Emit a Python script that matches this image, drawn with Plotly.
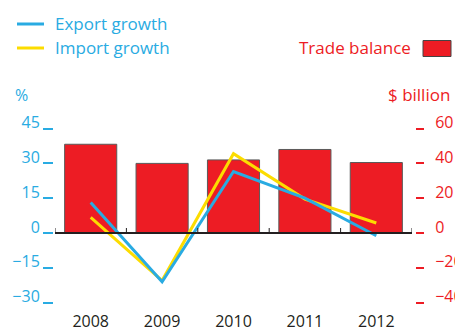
import plotly.graph_objects as go

# Data
years = ["2008", "2009", "2010", "2011", "2012"]
export_growth = [13.2, -21.0, 26.5, 15.0, -1.2]      # %
import_growth = [6.7, -20.5, 34.2, 14.6, 4.3]        # %
trade_balance = [51, 40, 42, 48, 40.5]               # $ billion

left_ticks = [-30, -15, 0, 15, 30, 45]
right_ticks = [-40, -20, 0, 20, 40, 60]

BLUE = "#29abe2"
YELLOW = "#fcdc00"
RED = "#ed1c24"
INK = "#231f20"
FONT = "Open Sans"

W, H = 455, 330

# plot area in pixels
px_left, px_right = 55, 412
px_top, px_bottom = 110, 310
zero_px = 233
scale = 2.32  # px per percentage point

pct_max = (zero_px - px_top) / scale
pct_min = -(px_bottom - zero_px) / scale
ratio = 20 / 15  # $ billion per percentage point


def fx(p):
    return p / W


def fy(p):
    return 1 - p / H


fig = go.Figure()

# trade balance bars on the $ billion axis (base axis, drawn first)
fig.add_trace(go.Bar(
    x=years, y=trade_balance, yaxis="y", width=0.73,
    marker=dict(color=RED, line=dict(color="#5a5a5a", width=1)),
    showlegend=False, hoverinfo="skip",
))
# growth lines on the % axis (overlaying, drawn above bars)
fig.add_trace(go.Scatter(
    x=years, y=import_growth, mode="lines", yaxis="y2",
    line=dict(color=YELLOW, width=3), showlegend=False,
))
fig.add_trace(go.Scatter(
    x=years, y=export_growth, mode="lines", yaxis="y2",
    line=dict(color=BLUE, width=3), showlegend=False,
))

fig.update_layout(
    width=W, height=H,
    margin=dict(l=0, r=0, t=0, b=0),
    paper_bgcolor="white", plot_bgcolor="white",
    font=dict(family=FONT, size=16),
    xaxis=dict(
        type="category", domain=[fx(px_left), fx(px_right)],
        range=[-0.5, len(years) - 0.5], automargin=False,
        showline=False, showgrid=False, zeroline=False, ticks="",
        tickfont=dict(color=INK, size=16), ticklabelstandoff=0,
    ),
    yaxis=dict(
        domain=[fy(px_bottom), fy(px_top)],
        range=[pct_min * ratio, pct_max * ratio],
        side="right", anchor="free", position=fx(415), automargin=False,
        tickvals=right_ticks, ticks="outside", ticklen=8, tickwidth=1.5,
        tickcolor=RED, tickfont=dict(color=RED, size=16),
        ticklabelshift=-6, ticklabelstandoff=8,
        showgrid=False, zeroline=False, showline=False,
    ),
    yaxis2=dict(
        overlaying="y", side="left", anchor="free", position=fx(53),
        range=[pct_min, pct_max], automargin=False,
        tickvals=left_ticks, ticks="outside", ticklen=10, tickwidth=1.5,
        tickcolor=BLUE, tickfont=dict(color=BLUE, size=16),
        ticklabelshift=-6, ticklabelstandoff=0,
        showgrid=False, zeroline=False, showline=False,
    ),
)

shapes = []
# zero baseline with small upward ticks at category boundaries
shapes.append(dict(type="line", xref="x domain", yref="y", x0=0, x1=1, y0=0, y1=0,
                   line=dict(color=INK, width=2), layer="above"))
for i in range(len(years) + 1):
    shapes.append(dict(type="line", xref="x", yref="y", x0=i - 0.5, x1=i - 0.5,
                       ysizemode="pixel", yanchor=0, y0=0, y1=5,
                       line=dict(color=INK, width=1), layer="above"))

# legend keys
shapes += [
    dict(type="line", xref="paper", yref="paper",
         x0=fx(17), x1=fx(44), y0=fy(24), y1=fy(24),
         line=dict(color=BLUE, width=3)),
    dict(type="line", xref="paper", yref="paper",
         x0=fx(17), x1=fx(44), y0=fy(48), y1=fy(48),
         line=dict(color=YELLOW, width=3)),
    dict(type="rect", xref="paper", yref="paper",
         x0=fx(423), x1=fx(451), y0=fy(56.5), y1=fy(40.5),
         fillcolor=RED, line=dict(color="#444444", width=1)),
]
fig.update_layout(shapes=shapes)

annotations = [
    dict(text="Export growth", x=fx(53), y=fy(23), xanchor="left", yanchor="middle",
         font=dict(color=BLUE, size=17)),
    dict(text="Import growth", x=fx(53), y=fy(47), xanchor="left", yanchor="middle",
         font=dict(color=BLUE, size=17)),
    dict(text="Trade balance", x=fx(413), y=fy(47), xanchor="right", yanchor="middle",
         font=dict(color=RED, size=17)),
    dict(text="%", x=fx(13), y=fy(95), xanchor="left", yanchor="middle",
         font=dict(color=BLUE, size=16)),
    dict(text="$ billion", x=fx(452), y=fy(94), xanchor="right", yanchor="middle",
         font=dict(color=RED, size=17)),
]
for a in annotations:
    a.update(xref="paper", yref="paper", showarrow=False)
fig.update_layout(annotations=annotations)

fig.write_html("out.html")
